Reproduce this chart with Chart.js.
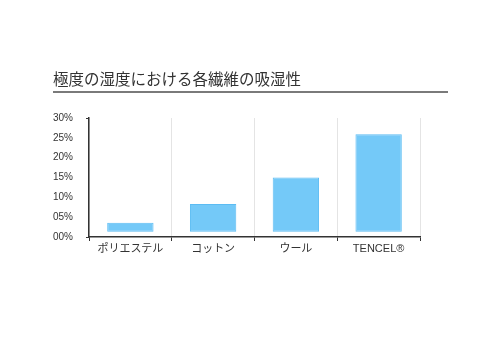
<!DOCTYPE html>
<html><head><meta charset="utf-8">
<script src="https://cdn.jsdelivr.net/npm/chart.js@4"></script>
<style>html,body{margin:0;padding:0;background:#fff;}#wrap{width:500px;height:358px;position:relative;}</style>
</head><body>
<div id="wrap"><canvas id="c" width="500" height="358"></canvas></div>
<script>
const titleText = '極度の湿度における各繊維の吸湿性';
const categories = ['ポリエステル', 'コットン', 'ウール', 'TENCEL®'];
const moisture = [3.6, 8.3, 15.0, 25.9];
const barBase = [1.3, 1.3, 1.3, 1.3];
const yTicks = [0, 5, 10, 15, 20, 25, 30];

const titlePlugin = {
  id: 'titleLine',
  beforeDraw(chart) {
    const ctx = chart.ctx;
    ctx.save();
    ctx.fillStyle = '#333';
    ctx.font = '15.5px "Noto Sans CJK JP", sans-serif';
    ctx.textBaseline = 'middle';
    ctx.textAlign = 'left';
    ctx.fillText(titleText, 53, 79);
    ctx.strokeStyle = '#7a7a7a';
    ctx.lineWidth = 2;
    ctx.beginPath();
    ctx.moveTo(53, 92);
    ctx.lineTo(448, 92);
    ctx.stroke();
    ctx.restore();
  }
};

new Chart(document.getElementById('c'), {
  type: 'bar',
  data: {
    labels: categories,
    datasets: [{
      data: moisture.map((v, i) => [barBase[i], v]),
      backgroundColor: '#74C9F8',
      borderColor: '#5CBCF3',
      borderWidth: 1,
      borderSkipped: false,
      barPercentage: 0.56,
      categoryPercentage: 1
    }]
  },
  options: {
    responsive: false,
    animation: false,
    devicePixelRatio: 1,
    layout: { padding: { left: 40, right: 80, top: 118, bottom: 96 } },
    plugins: { legend: { display: false }, tooltip: { enabled: false }, title: { display: false } },
    scales: {
      x: {
        afterFit(s) { s.height = 25; },
        grid: { color: '#e4e4e4', tickColor: '#333', tickLength: 4, lineWidth: 1 },
        border: { color: '#333', width: 1.5 },
        ticks: { color: '#333', font: { family: '"Liberation Sans", "Noto Sans CJK JP", sans-serif', size: 11 }, padding: 1 }
      },
      y: {
        min: 0, max: 30,
        afterFit(s) { s.width = 49; },
        afterBuildTicks(s) { s.ticks = yTicks.map(v => ({ value: v })); },
        grid: {
          drawOnChartArea: false,
          tickLength: 3,
          tickColor: (c) => (c.tick && (c.tick.value === 30 || c.tick.value === 0)) ? '#333' : 'rgba(0,0,0,0)'
        },
        border: { color: '#333', width: 1.5 },
        ticks: {
          color: '#333',
          padding: 13,
          font: { family: '"Liberation Sans", Arial, sans-serif', size: 10 },
          callback: (v) => String(v).padStart(2, '0') + '%'
        }
      }
    }
  },
  plugins: [titlePlugin]
});
</script>
</body></html>
